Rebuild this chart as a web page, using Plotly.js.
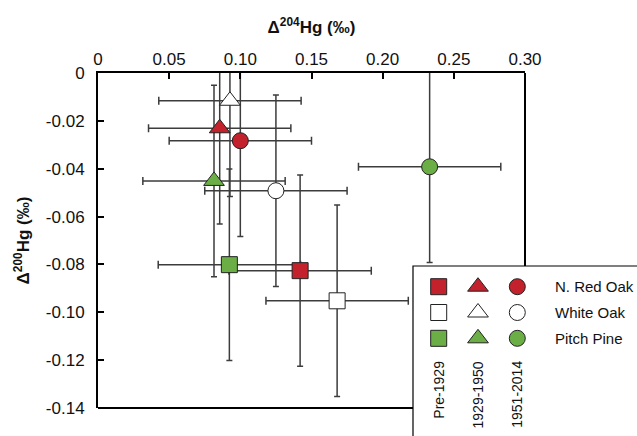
<!DOCTYPE html>
<html>
<head>
<meta charset="utf-8">
<script src="https://cdn.plot.ly/plotly-3.0.1.min.js"></script>
<style>html,body{margin:0;padding:0;background:#fff;}#chart{width:637px;height:436px;}</style>
</head>
<body>
<div id="chart"></div>
<script>
// ---- Data ----
const periods = ['Pre-1929', '1929-1950', '1951-2014'];
const periodSymbols = ['square', 'triangle-up', 'circle'];
const species = ['N. Red Oak', 'White Oak', 'Pitch Pine'];
const speciesColors = ['#C3222C', '#FFFFFF', '#6BAE45'];

// Δ204Hg (x) and Δ200Hg (y), one value per period (Pre-1929, 1929-1950, 1951-2014)
const redOakX    = [0.142, 0.0855, 0.100];
const redOakY    = [-0.0826, -0.0231, -0.0283];
const whiteOakX  = [0.168, 0.0927, 0.125];
const whiteOakY  = [-0.0952, -0.0116, -0.0492];
const pitchPineX = [0.0923, 0.0815, 0.233];
const pitchPineY = [-0.0801, -0.0451, -0.0392];

// 2SD uncertainties
const redOakXErr    = [0.05, 0.05, 0.05];
const redOakYErr    = [0.04, 0.04, 0.04];
const whiteOakXErr  = [0.05, 0.05, 0.05];
const whiteOakYErr  = [0.04, 0.04, 0.04];
const pitchPineXErr = [0.05, 0.05, 0.05];
const pitchPineYErr = [0.04, 0.04, 0.04];

const xTickVals = [0, 0.05, 0.10, 0.15, 0.20, 0.25, 0.30];
const xTickText = ['0', '0.05', '0.10', '0.15', '0.20', '0.25', '0.30'];
const yTickVals = [0, -0.02, -0.04, -0.06, -0.08, -0.10, -0.12, -0.14];
const yTickText = ['0', '-0.02', '-0.04', '-0.06', '-0.08', '-0.10', '-0.12', '-0.14'];

// ---- Build traces ----
const allX = [redOakX, whiteOakX, pitchPineX];
const allY = [redOakY, whiteOakY, pitchPineY];
const allXE = [redOakXErr, whiteOakXErr, pitchPineXErr];
const allYE = [redOakYErr, whiteOakYErr, pitchPineYErr];

const X = [], Y = [], XE = [], YE = [], SYM = [], COL = [], SZ = [], TXT = [];
const symSize = {'square': 16, 'triangle-up': 18, 'circle': 16};
for (let s = 0; s < species.length; s++) {
  for (let p = 0; p < periods.length; p++) {
    X.push(allX[s][p]); Y.push(allY[s][p]);
    XE.push(allXE[s][p]); YE.push(allYE[s][p]);
    SYM.push(periodSymbols[p]); COL.push(speciesColors[s]);
    SZ.push(symSize[periodSymbols[p]]);
    TXT.push(species[s] + ', ' + periods[p]);
  }
}

const FONT = 'Arial, "Liberation Sans", sans-serif';
const ebColor = '#3c3c3c';

const errTrace = {
  type: 'scatter', mode: 'markers', x: X, y: Y,
  marker: {opacity: 0, size: 4},
  error_x: {type: 'data', array: XE, visible: true, color: ebColor, thickness: 1.5, width: 4},
  error_y: {type: 'data', array: YE, visible: true, color: ebColor, thickness: 1.5, width: 3},
  hoverinfo: 'skip', showlegend: false
};
const markerTrace = {
  type: 'scatter', mode: 'markers', x: X, y: Y, text: TXT,
  marker: {symbol: SYM, color: COL, size: SZ, opacity: 1, line: {color: '#222', width: 1}},
  showlegend: false
};

// custom legend grid (column = period, row = species)
const LX = [], LY = [], LS = [], LC = [], LZ = [];
for (let s = 0; s < species.length; s++) {
  for (let p = 0; p < periods.length; p++) {
    LX.push(p); LY.push(s); LS.push(periodSymbols[p]); LC.push(speciesColors[s]);
    LZ.push(symSize[periodSymbols[p]]);
  }
}
const legendTrace = {
  type: 'scatter', mode: 'markers', x: LX, y: LY, xaxis: 'x2', yaxis: 'y2',
  marker: {symbol: LS, color: LC, size: LZ, opacity: 1, line: {color: '#222', width: 1}},
  hoverinfo: 'skip', showlegend: false, cliponaxis: false
};

// legend box geometry in paper coords
const legLeft = 0.7377, legTop = 0.4239;
const leg2Range = [4.70, -0.802];
function rowToPaper(r) { return legTop * (r - leg2Range[0]) / (leg2Range[1] - leg2Range[0]); }

const annotations = [];
species.forEach((name, s) => annotations.push({
  xref: 'paper', yref: 'paper', x: 1.066, y: rowToPaper(s), text: name, showarrow: false,
  xanchor: 'left', yanchor: 'middle', font: {family: FONT, size: 15, color: '#111'}
}));
periods.forEach((name, p) => annotations.push({
  xref: 'x2', yref: 'y2', x: p, y: 2.80, text: name, showarrow: false, textangle: -90,
  xanchor: 'center', yanchor: 'top', font: {family: FONT, size: 14, color: '#111'}
}));

const layout = {
  width: 637, height: 436,
  margin: {l: 98, r: 112, t: 73, b: 28, pad: 0},
  paper_bgcolor: '#fff', plot_bgcolor: 'rgba(0,0,0,0)',
  font: {family: FONT, size: 17, color: '#111'},
  showlegend: false,
  xaxis: {
    side: 'top', range: [0, 0.30], tickvals: xTickVals, ticktext: xTickText,
    showgrid: false, zeroline: false, showline: true, linecolor: '#000', linewidth: 2,
    ticks: 'inside', ticklen: 6, tickwidth: 2, tickcolor: '#000', ticklabelstandoff: -1,
    tickfont: {family: FONT, size: 17, color: '#111'},
    title: {text: '\u0394<sup>204</sup>Hg (\u2030)', font: {family: FONT, size: 17, color: '#111', weight: 'bold'}, standoff: 12},
    automargin: false
  },
  yaxis: {
    range: [-0.14, 0], tickvals: yTickVals, ticktext: yTickText,
    showgrid: false, zeroline: false, showline: true, linecolor: '#000', linewidth: 2,
    ticks: 'inside', ticklen: 6, tickwidth: 2, tickcolor: '#000', ticklabelstandoff: 8,
    tickfont: {family: FONT, size: 17, color: '#111'},
    title: {text: '\u0394<sup>200</sup>Hg (\u2030)', font: {family: FONT, size: 17, color: '#111', weight: 'bold'}, standoff: 12},
    automargin: false
  },
  xaxis2: {domain: [legLeft, 1], anchor: 'y2', range: [-0.654, 2.196], visible: false, fixedrange: true},
  yaxis2: {domain: [0, legTop], anchor: 'x2', range: leg2Range, visible: false, fixedrange: true},
  shapes: [
    {type: 'line', xref: 'paper', yref: 'paper', x0: 1, x1: 1, y0: legTop, y1: 1, line: {color: '#000', width: 2}},
    {type: 'line', xref: 'paper', yref: 'paper', x0: 0, x1: legLeft, y0: 0, y1: 0, line: {color: '#000', width: 2}},
    {type: 'rect', xref: 'paper', yref: 'paper', x0: legLeft, x1: 1.4, y0: -0.3, y1: legTop, line: {color: '#000', width: 1.2}, fillcolor: 'rgba(0,0,0,0)'}
  ],
  annotations: annotations
};

Plotly.newPlot('chart', [errTrace, markerTrace, legendTrace], layout, {staticPlot: true, displayModeBar: false});
</script>
</body>
</html>
